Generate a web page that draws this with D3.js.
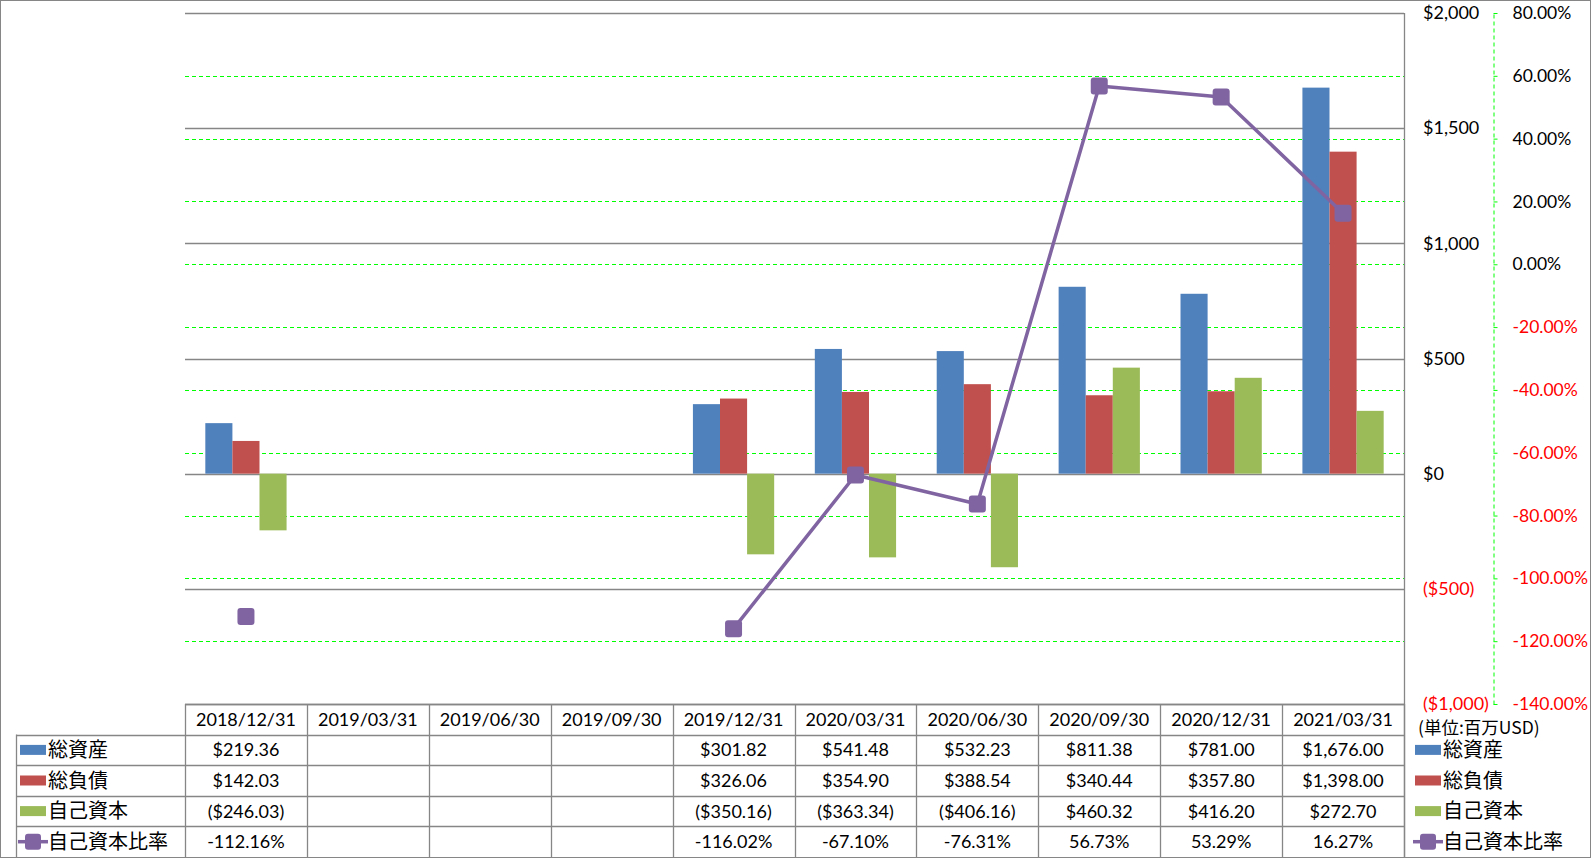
<!DOCTYPE html>
<html>
<head>
<meta charset="utf-8">
<script src="https://cdn.jsdelivr.net/npm/d3@7"></script>
<style>
  html, body { margin: 0; padding: 0; background: #fff; }
  svg { display: block; }
  .num { font-family: Lato, "Noto Sans CJK JP", sans-serif; font-size: 18px; }
  .pct { font-size: 17.5px; }
  .jp { font-family: "Noto Sans CJK JP", sans-serif; font-size: 20px; }
  .unit { font-family: "Noto Sans CJK JP", sans-serif; font-size: 17.5px; }
</style>
</head>
<body>
<svg id="chart" width="1591" height="858"></svg>
<script>
// ---------------- data ----------------
const categories = ["2018/12/31","2019/03/31","2019/06/30","2019/09/30","2019/12/31","2020/03/31","2020/06/30","2020/09/30","2020/12/31","2021/03/31"];
const seriesNames = ["総資産","総負債","自己資本"];
const lineName = "自己資本比率";
const totalAssets      = [219.36, null, null, null, 301.82, 541.48, 532.23, 811.38, 781.00, 1676.00];
const totalLiabilities = [142.03, null, null, null, 326.06, 354.90, 388.54, 340.44, 357.80, 1398.00];
const equity           = [-246.03, null, null, null, -350.16, -363.34, -406.16, 460.32, 416.20, 272.70];
const equityRatio      = [-112.16, null, null, null, -116.02, -67.10, -76.31, 56.73, 53.29, 16.27];
const dollarTicks = [-1000, -500, 0, 500, 1000, 1500, 2000];
const pctTicks = [-140, -120, -100, -80, -60, -40, -20, 0, 20, 40, 60, 80];
const unitLabel = "(単位:百万USD)";

const colors = ["#4F81BD", "#C0504D", "#9BBB59"];
const lineColor = "#8064A2";
const gridGray = "#868686";

// ---------------- layout ----------------
const plot = { left: 185, right: 1404, top: 13, bottom: 704 };
const svg = d3.select("#chart");

const x = d3.scaleBand().domain(categories).range([plot.left, plot.right]);
const bw = x.bandwidth();
const barW = bw / 4.5;
const x1 = d3.scaleBand().domain(seriesNames).range([barW * 0.75, barW * 3.75]);
const yL = d3.scaleLinear().domain([-1000, 2000]).range([plot.bottom, plot.top]);
const yR = d3.scaleLinear().domain([-140, 80]).range([plot.bottom, plot.top]);

const hy = s => s.replace(/\u2212/g, "-");

// outer border
svg.append("rect").attr("x", 0.5).attr("y", 0.5).attr("width", 1590).attr("height", 857)
  .attr("fill", "#fff").attr("stroke", gridGray).attr("stroke-width", 1);

// green dashed gridlines (secondary axis)
svg.append("g").selectAll("line").data(pctTicks.filter(t => t !== 80 && t !== -140)).join("line")
  .attr("x1", plot.left).attr("x2", plot.right)
  .attr("y1", d => Math.round(yR(d)) + 0.5).attr("y2", d => Math.round(yR(d)) + 0.5)
  .attr("stroke", "#00FF00").attr("stroke-width", 1.2).attr("stroke-dasharray", "4,3");

// gray gridlines (primary axis)
svg.append("g").selectAll("line").data(dollarTicks).join("line")
  .attr("x1", plot.left).attr("x2", plot.right)
  .attr("y1", d => Math.round(yL(d)) + 0.5).attr("y2", d => Math.round(yL(d)) + 0.5)
  .attr("stroke", gridGray).attr("stroke-width", 1.3);

// plot right border
svg.append("line").attr("x1", plot.right + 0.5).attr("x2", plot.right + 0.5)
  .attr("y1", plot.top).attr("y2", 858).attr("stroke", gridGray).attr("stroke-width", 1.3);

// bars
const seriesData = [totalAssets, totalLiabilities, equity];
seriesData.forEach((vals, si) => {
  svg.append("g").selectAll("rect")
    .data(vals.map((v, i) => ({ v, c: categories[i] })).filter(d => d.v != null))
    .join("rect")
    .attr("x", d => x(d.c) + x1(seriesNames[si]))
    .attr("width", x1.bandwidth())
    .attr("y", d => yL(Math.max(0, d.v)))
    .attr("height", d => Math.abs(yL(d.v) - yL(0)))
    .attr("fill", colors[si]);
});

// line
const linePts = equityRatio.map((v, i) => ({ v, c: categories[i] }));
const lineGen = d3.line()
  .defined(d => d.v != null)
  .x(d => x(d.c) + bw / 2)
  .y(d => yR(d.v));
svg.append("path").datum(linePts).attr("d", lineGen)
  .attr("fill", "none").attr("stroke", lineColor).attr("stroke-width", 3.5)
  .attr("stroke-linejoin", "round");
const ms = 17;
svg.append("g").selectAll("rect").data(linePts.filter(d => d.v != null)).join("rect")
  .attr("x", d => x(d.c) + bw / 2 - ms / 2).attr("y", d => yR(d.v) - ms / 2)
  .attr("width", ms).attr("height", ms).attr("rx", 3).attr("ry", 3)
  .attr("fill", lineColor);

// primary axis labels ($)
const fmtDollar = v => {
  const s = "$" + d3.format(",")(Math.abs(v));
  return v < 0 ? "(" + s + ")" : s;
};
const axL = svg.append("g").attr("transform", `translate(${plot.right},0)`)
  .call(d3.axisRight(yL).tickValues(dollarTicks).tickSize(0).tickPadding(19).tickFormat(fmtDollar));
axL.select(".domain").remove();
axL.selectAll("text").attr("class", "num").attr("font-size", null).attr("font-family", null)
  .attr("fill", d => d < 0 ? "#FF0000" : "#000");

// secondary axis (%)
const axR = svg.append("g").attr("transform", "translate(1493.5,0)")
  .call(d3.axisRight(yR).tickValues(pctTicks).tickSize(4).tickSizeOuter(0).tickPadding(15)
    .tickFormat(d => hy(d3.format(".2f")(d)) + "%"));
axR.select(".domain").attr("stroke", "#00FF00").attr("stroke-dasharray", "4,3");
axR.selectAll(".tick line").attr("stroke", "#00FF00");
axR.selectAll("text").attr("class", "num pct").attr("font-size", null).attr("font-family", null)
  .attr("fill", d => d < 0 ? "#FF0000" : "#000");

// ---------------- data table ----------------
const tTop = 704, rowH = 30.6, tLeft = 16;
const rowsY = d3.range(6).map(i => tTop + i * rowH);
const tbl = svg.append("g");
tbl.append("line").attr("x1", plot.left).attr("x2", plot.right).attr("y1", tTop + 0.5).attr("y2", tTop + 0.5)
  .attr("stroke", gridGray).attr("stroke-width", 1.3);
tbl.selectAll(".hl").data(rowsY.slice(1, 5)).join("line")
  .attr("x1", tLeft).attr("x2", plot.right)
  .attr("y1", d => Math.round(d) + 0.5).attr("y2", d => Math.round(d) + 0.5)
  .attr("stroke", gridGray).attr("stroke-width", 1.3);
const colEdges = categories.map(c => x(c)).concat([plot.right]);
tbl.selectAll(".vl").data(colEdges).join("line")
  .attr("x1", d => Math.round(d) + 0.5).attr("x2", d => Math.round(d) + 0.5)
  .attr("y1", tTop).attr("y2", 858)
  .attr("stroke", gridGray).attr("stroke-width", 1.3);
tbl.append("line").attr("x1", tLeft + 0.5).attr("x2", tLeft + 0.5).attr("y1", rowsY[1]).attr("y2", 858)
  .attr("stroke", gridGray).attr("stroke-width", 1.3);

tbl.selectAll(".hdr").data(categories).join("text")
  .attr("class", "num").attr("x", d => x(d) + bw / 2).attr("y", tTop + rowH / 2)
  .attr("dy", "0.36em").attr("text-anchor", "middle").attr("fill", "#000").text(d => d);

const fmtCell = v => v == null ? "" : (v < 0 ? "($" + d3.format(",.2f")(-v) + ")" : "$" + d3.format(",.2f")(v));
const fmtPct = v => v == null ? "" : hy(d3.format(".2f")(v)) + "%";
const tableRows = [
  { vals: totalAssets, f: fmtCell },
  { vals: totalLiabilities, f: fmtCell },
  { vals: equity, f: fmtCell },
  { vals: equityRatio, f: fmtPct }
];
tableRows.forEach((r, ri) => {
  const cy = rowsY[ri + 1] + rowH / 2;
  tbl.append("g").selectAll("text").data(r.vals.map((v, i) => ({ v, c: categories[i] })).filter(d => d.v != null))
    .join("text").attr("class", "num")
    .attr("x", d => x(d.c) + bw / 2).attr("y", cy).attr("dy", "0.36em")
    .attr("text-anchor", "middle").attr("fill", "#000").text(d => r.f(d.v));
});

function legendKeys(g, swX, textX, cyList) {
  seriesNames.forEach((n, i) => {
    g.append("rect").attr("x", swX).attr("y", cyList[i] - 5).attr("width", 26).attr("height", 10).attr("fill", colors[i]);
    g.append("text").attr("class", "jp").attr("x", textX).attr("y", cyList[i]).attr("dy", "0.36em")
      .attr("fill", "#000").text(n);
  });
  const cy = cyList[3];
  g.append("line").attr("x1", swX - 2).attr("x2", swX + 28).attr("y1", cy).attr("y2", cy)
    .attr("stroke", lineColor).attr("stroke-width", 3.5);
  g.append("rect").attr("x", swX + 13 - 8).attr("y", cy - 8).attr("width", 16).attr("height", 16)
    .attr("rx", 3).attr("ry", 3).attr("fill", lineColor);
  g.append("text").attr("class", "jp").attr("x", textX).attr("y", cy).attr("dy", "0.36em")
    .attr("fill", "#000").text(lineName);
}
const rowCenters = d3.range(4).map(i => rowsY[i + 1] + rowH / 2);
legendKeys(svg.append("g"), 20, 48, rowCenters);
legendKeys(svg.append("g"), 1415, 1443, rowCenters);

svg.append("text").attr("class", "unit").attr("x", 1418).attr("y", 728).attr("dy", "0.36em")
  .attr("fill", "#000").text(unitLabel);
</script>
</body>
</html>
